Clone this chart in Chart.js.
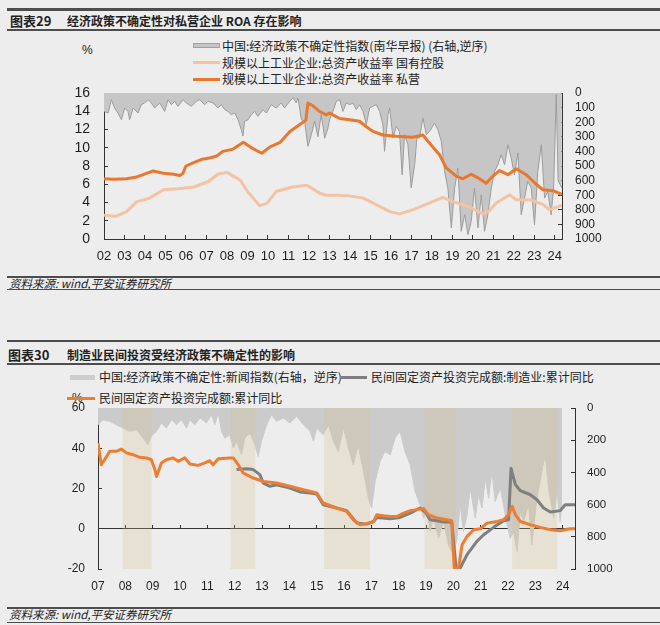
<!DOCTYPE html>
<html>
<head>
<meta charset="utf-8">
<title>经济政策不确定性</title>
<script src="https://cdn.jsdelivr.net/npm/chart.js@4.4.1/dist/chart.umd.min.js"></script>
<style>
  body { margin: 0; width: 660px; height: 625px; background: #ededed; position: relative; overflow: hidden; }
  .t { position: absolute; white-space: nowrap; font-family: "Noto Sans CJK SC", sans-serif; color: #222; }
  .rule { position: absolute; left: 7px; width: 653px; background: #4d4d4d; }
  .sw { position: absolute; }
  canvas { position: absolute; left: 0; }
</style>
</head>
<body>
<!-- 图表29 -->
<div class="rule" style="top:8px;height:3px"></div>
<div class="t" style="left:10px;top:12px;font-size:13px;line-height:17px;font-weight:bold">图表29</div>
<div class="t" style="left:67px;top:12px;font-size:12px;line-height:17px;font-weight:bold">经济政策不确定性对私营企业 ROA 存在影响</div>
<div class="rule" style="top:29px;height:2px"></div>

<div class="t" style="left:82px;top:42px;font-size:12px;line-height:16px;font-family:'Liberation Sans'">%</div>
<div class="sw" style="left:193px;top:43px;width:27px;height:5px;background:#c6c6c6;border:1px solid #a0a0a0;box-sizing:border-box"></div>
<div class="t" style="left:222px;top:38px;font-size:12px;line-height:16px">中国:经济政策不确定性指数(南华早报) (右轴,逆序)</div>
<div class="sw" style="left:193px;top:61px;width:27px;height:3px;background:#f3c3a3"></div>
<div class="t" style="left:222px;top:54.5px;font-size:12px;line-height:16px">规模以上工业企业:总资产收益率 国有控股</div>
<div class="sw" style="left:193px;top:77.5px;width:27px;height:3px;background:#e9782e"></div>
<div class="t" style="left:222px;top:71px;font-size:12px;line-height:16px">规模以上工业企业:总资产收益率 私营</div>

<canvas id="c1" width="660" height="186" style="top:84px"></canvas>

<div class="rule" style="top:276px;height:2px"></div>
<div class="t" style="left:9px;top:275px;font-size:11.5px;line-height:16px;font-style:italic">资料来源: wind,平安证券研究所</div>
<div class="rule" style="top:289px;height:1px"></div>

<!-- 图表30 -->
<div class="rule" style="top:340px;height:2px"></div>
<div class="t" style="left:8px;top:346px;font-size:13px;line-height:17px;font-weight:bold">图表30</div>
<div class="t" style="left:67px;top:346px;font-size:12px;line-height:17px;font-weight:bold">制造业民间投资受经济政策不确定性的影响</div>
<div class="rule" style="top:363px;height:2px"></div>

<div class="sw" style="left:70px;top:374.5px;width:25px;height:5px;background:#cdcdcd"></div>
<div class="t" style="left:99px;top:369px;font-size:12px;line-height:16px">中国:经济政策不确定性:新闻指数(右轴，逆序)</div>
<div class="sw" style="left:340px;top:375.5px;width:27px;height:3px;background:#7f7f7f"></div>
<div class="t" style="left:371px;top:369px;font-size:12px;line-height:16px">民间固定资产投资完成额:制造业:累计同比</div>
<div class="t" style="left:72px;top:390px;font-size:12px;line-height:16px;font-family:'Liberation Sans'">%</div>
<div class="sw" style="left:67px;top:396.5px;width:28px;height:3px;background:#ed7d31"></div>
<div class="t" style="left:99px;top:390px;font-size:12px;line-height:16px">民间固定资产投资完成额:累计同比</div>

<canvas id="c2" width="660" height="202" style="top:398px"></canvas>

<div class="rule" style="top:607px;height:2px"></div>
<div class="t" style="left:9px;top:606px;font-size:11.5px;line-height:16px;font-style:italic">资料来源: wind,平安证券研究所</div>
<div class="rule" style="top:622px;height:1px"></div>

<script>
// ---- 图表29 data ----
const yearTicks1 = [2002, 2003, 2004, 2005, 2006, 2007, 2008, 2009, 2010, 2011, 2012, 2013,
                    2014, 2015, 2016, 2017, 2018, 2019, 2020, 2021, 2022, 2023, 2024];

// 中国:经济政策不确定性指数(南华早报), right axis reversed
const epuYear1 = [
  2002.00, 2002.20, 2002.36, 2002.52, 2002.68, 2002.85,
  2003.01, 2003.17, 2003.25, 2003.42, 2003.66, 2003.82, 2003.98,
  2004.15, 2004.31, 2004.47, 2004.72, 2004.96,
  2005.12, 2005.29, 2005.45, 2005.61, 2005.86,
  2006.02, 2006.26, 2006.51, 2006.67, 2006.91,
  2007.08, 2007.32, 2007.56, 2007.73, 2007.89,
  2008.05, 2008.21, 2008.38, 2008.54, 2008.70, 2008.78, 2008.86,
  2009.03, 2009.19, 2009.35, 2009.51, 2009.76, 2009.92,
  2010.16, 2010.41, 2010.65, 2010.81,
  2011.06, 2011.22, 2011.38, 2011.47, 2011.63, 2011.79, 2011.95,
  2012.12, 2012.28, 2012.44, 2012.60, 2012.77, 2012.93,
  2013.01, 2013.17, 2013.34, 2013.50, 2013.66, 2013.82, 2013.99,
  2014.15, 2014.31, 2014.47, 2014.64, 2014.80, 2014.96,
  2015.12, 2015.29, 2015.45, 2015.61, 2015.69, 2015.86, 2015.94,
  2016.10, 2016.26, 2016.42, 2016.55, 2016.67, 2016.83, 2016.99,
  2017.16, 2017.27, 2017.40, 2017.56, 2017.73, 2017.89,
  2018.13, 2018.29, 2018.46, 2018.62, 2018.78, 2018.95,
  2019.11, 2019.27, 2019.43, 2019.60, 2019.76, 2019.92,
  2020.08, 2020.25, 2020.41, 2020.57, 2020.73, 2020.90,
  2021.06, 2021.22, 2021.38, 2021.55, 2021.71, 2021.87,
  2022.03, 2022.20, 2022.36, 2022.52, 2022.68, 2022.85,
  2023.01, 2023.17, 2023.34, 2023.50, 2023.66, 2023.82, 2023.94,
  2024.07, 2024.16, 2024.34
];
const epuVal1 = [
  126, 137, 46, 103, 137, 183,
  103, 126, 183, 103, 137, 80, 68,
  46, 68, 103, 68, 126,
  46, 80, 57, 91, 46,
  68, 91, 57, 46, 80,
  57, 68, 103, 80, 114,
  126, 148, 137, 183, 251, 295, 194,
  183, 148, 126, 160, 114, 137,
  80, 103, 68, 103,
  57, 34, 68, 34, 183, 194, 365,
  285, 194, 300, 148, 310, 240,
  183, 126, 57, 46, 126, 68, 80,
  68, 114, 80, 126, 217, 103,
  91, 80, 126, 217, 400, 148, 103,
  308, 228, 263, 560, 285, 354, 651,
  491, 308, 308, 171, 285, 263,
  206, 251, 331, 537, 651, 925,
  651, 514, 948, 834, 970, 880,
  651, 925, 697, 948, 834, 651,
  537, 491, 422, 491, 354, 445,
  560, 411, 834, 720, 605, 651,
  902, 537, 354, 720, 674, 834, 651,
  10, 600, 650
];

// 规模以上工业企业:总资产收益率 私营 (%)
const privYear1 = [2002.0, 2002.5, 2003.1, 2003.6, 2004.07, 2004.4, 2004.9, 2005.4, 2005.7, 2005.85,
  2006.0, 2006.4, 2006.8, 2007.2, 2007.5, 2007.8, 2008.3, 2008.8, 2009.27, 2009.7,
  2010.1, 2010.6, 2011.06, 2011.55, 2011.85, 2011.95, 2012.2, 2012.5, 2012.85, 2013.01,
  2013.5, 2013.99, 2014.47, 2014.8, 2015.12, 2015.61, 2016.26, 2017.07, 2017.56, 2017.89,
  2018.38, 2018.7, 2019.19, 2019.51, 2019.92, 2020.25, 2020.65, 2020.98, 2021.3, 2021.71,
  2022.12, 2022.6, 2023.09, 2023.42, 2023.9, 2024.34];
const privVal1 = [6.6, 6.55, 6.6, 6.8, 7.2, 7.45, 7.2, 7.1, 6.95, 7.2,
  8.0, 8.4, 8.75, 8.9, 9.1, 9.6, 9.85, 10.6, 9.9, 9.4,
  10.1, 10.6, 11.75, 12.55, 13.0, 14.9, 14.6, 14.0, 13.6, 13.8,
  13.2, 13.07, 12.9, 12.3, 11.8, 11.4, 11.25, 11.15, 11.4, 10.5,
  9.2, 7.8, 6.9, 6.6, 7.1, 6.7, 6.1, 6.9, 7.5, 7.05,
  7.7, 7.05, 6.0, 5.4, 5.3, 4.9];

// 规模以上工业企业:总资产收益率 国有控股 (%)
const soeYear1 = [2002.0, 2002.6, 2003.1, 2003.6, 2004.2, 2004.9, 2005.6, 2006.4, 2007.1, 2007.55,
  2008.0, 2008.65, 2009.0, 2009.6, 2009.95, 2010.4, 2011.2, 2011.9, 2012.55, 2012.85,
  2013.4, 2014.0, 2014.64, 2015.29, 2015.94, 2016.42, 2017.07, 2017.89, 2018.54, 2019.03,
  2019.84, 2020.49, 2020.81, 2021.14, 2021.79, 2022.12, 2022.77, 2023.42, 2023.74, 2024.34];
const soeVal1 = [2.6, 2.5, 3.0, 4.1, 4.45, 5.4, 5.5, 5.7, 6.3, 7.1,
  7.3, 6.45, 5.2, 3.65, 3.9, 5.2, 5.7, 5.9, 5.0, 4.8,
  4.8, 4.7, 4.5, 3.75, 3.0, 2.75, 3.2, 3.95, 4.55, 4.1,
  3.5, 2.75, 3.1, 3.95, 4.85, 4.3, 4.3, 3.8, 3.2, 3.7];

// ---- 图表30 data ----
const yearTicks2 = [2007, 2008, 2009, 2010, 2011, 2012, 2013, 2014, 2015,
                    2016, 2017, 2018, 2019, 2020, 2021, 2022, 2023, 2024];

// 中国:经济政策不确定性:新闻指数, right axis reversed
const epuYear2 = [
  2007.00, 2007.18, 2007.43, 2007.67, 2007.92,
  2008.16, 2008.41, 2008.65, 2008.83, 2008.95,
  2009.14, 2009.32, 2009.50, 2009.69, 2009.87,
  2010.05, 2010.24, 2010.36, 2010.54, 2010.73, 2010.97,
  2011.15, 2011.27, 2011.40, 2011.52, 2011.64, 2011.82, 2011.95,
  2012.07, 2012.25, 2012.37, 2012.56, 2012.74, 2012.86, 2012.98,
  2013.17, 2013.35, 2013.53, 2013.78,
  2014.02, 2014.27, 2014.51, 2014.76, 2014.88,
  2015.00, 2015.24, 2015.43, 2015.61, 2015.79, 2015.98,
  2016.16, 2016.34, 2016.52, 2016.71, 2016.89,
  2017.01, 2017.14, 2017.32, 2017.50, 2017.69, 2017.87,
  2018.05, 2018.23, 2018.42, 2018.60, 2018.78, 2018.91,
  2019.03, 2019.15, 2019.27, 2019.46, 2019.64, 2019.82,
  2020.00, 2020.13, 2020.25, 2020.37, 2020.50, 2020.62, 2020.80, 2020.92,
  2021.05, 2021.17, 2021.29, 2021.41, 2021.53, 2021.72, 2021.90,
  2022.08, 2022.20, 2022.33, 2022.45, 2022.57, 2022.75, 2022.87,
  2023.06, 2023.24, 2023.36, 2023.48, 2023.67, 2023.79, 2023.91, 2023.97
];
const epuVal2 = [
  104, 73, 83, 104, 125,
  145, 135, 187, 228, 176,
  145, 93, 125, 73, 104,
  73, 125, 73, 104, 62, 93,
  41, 104, 31, 145, 187, 166, 249,
  207, 290, 187, 156, 228, 301, 207,
  104, 41, 83, 62,
  93, 52, 104, 145, 207,
  125, 166, 104, 207, 270, 125,
  249, 353, 228, 394, 560,
  622, 456, 332, 270, 290, 187,
  145, 270, 353, 518, 601, 684,
  622, 767, 684, 809, 705, 850,
  912, 809, 601, 767, 664, 498, 684, 539,
  622, 435, 560, 394, 580, 498, 664,
  809, 767, 892, 643, 705, 601, 850,
  560, 394, 290, 498, 684, 518, 705, 600
];

// 民间固定资产投资完成额:累计同比 (%)
const privYear2 = [2007.00, 2007.12, 2007.24, 2007.43, 2007.67, 2007.85, 2008.04, 2008.28, 2008.53, 2008.77,
  2008.95, 2009.08, 2009.14, 2009.32, 2009.50, 2009.75, 2009.93, 2010.18, 2010.36, 2010.66,
  2010.91, 2011.09, 2011.21, 2011.40, 2011.82, 2011.95, 2012.13, 2012.31, 2012.68, 2013.05,
  2013.53, 2014.02, 2014.51, 2015.00, 2015.24, 2015.73, 2016.10, 2016.34, 2016.59, 2016.83,
  2017.08, 2017.20, 2017.44, 2017.69, 2017.93, 2018.18, 2018.42, 2018.66, 2018.91, 2019.09,
  2019.40, 2019.76, 2019.94, 2020.03, 2020.19, 2020.32, 2020.50, 2020.74, 2020.99, 2021.23,
  2021.60, 2021.84, 2022.02, 2022.15, 2022.27, 2022.45, 2022.82, 2023.18, 2023.55, 2023.91,
  2024.27, 2024.45];
const privVal2 = [42.5, 31.8, 34.3, 38.5, 38.5, 39.6, 37.7, 36.8, 35.5, 35.2,
  34.3, 29.4, 26.0, 32.7, 34.3, 35.2, 33.5, 35.2, 32.2, 31.5,
  32.7, 33.8, 31.8, 34.8, 35.2, 35.2, 31.8, 27.7, 25.2, 23.5,
  22.7, 21.1, 19.4, 17.8, 12.8, 10.3, 8.6, 4.5, 2.0, 2.5,
  3.6, 7.0, 6.5, 6.1, 6.1, 7.8, 9.0, 9.5, 10.0, 7.0,
  5.3, 4.5, 4.0, -19.5, -19.5, -8.0, -3.8, -0.5, 0.0, 2.8,
  3.6, 4.5, 7.0, 11.1, 7.0, 3.6, 2.0, 0.7, -0.5, -1.0,
  0.0, 0.0];

// 民间固定资产投资完成额:制造业:累计同比 (%)
const mfgYear2 = [2012.07, 2012.44, 2012.68, 2012.92, 2013.05, 2013.29, 2013.53, 2014.02, 2014.39, 2014.76,
  2015.00, 2015.24, 2015.73, 2016.10, 2016.47, 2016.83, 2017.08, 2017.20, 2017.69, 2018.05,
  2018.42, 2018.78, 2018.97, 2019.15, 2019.40, 2019.64, 2019.94, 2020.10, 2020.25, 2020.50,
  2020.86, 2021.11, 2021.47, 2021.84, 2022.02, 2022.11, 2022.27, 2022.45, 2022.82, 2023.06,
  2023.30, 2023.55, 2023.91, 2024.09, 2024.27, 2024.45];
const mfgVal2 = [29.4, 29.8, 29.4, 26.9, 22.7, 21.1, 21.9, 20.2, 18.3, 17.8,
  17.3, 11.9, 10.3, 9.0, 2.8, 2.3, 3.6, 5.6, 5.0, 5.6,
  7.8, 10.3, 8.3, 4.5, 4.0, 3.3, 3.3, -19.5, -19.5, -12.9,
  -6.3, -3.0, 0.7, 4.0, 4.5, 30.0, 21.9, 18.9, 16.9, 14.4,
  10.3, 8.3, 9.0, 11.9, 11.9, 11.9];

// beige shaded periods
const bandFrom = [2007.9, 2011.85, 2015.27, 2018.95, 2022.15];
const bandTo   = [2008.96, 2012.75, 2016.95, 2020.08, 2023.8];

// ---------------------------------------------------------------
Chart.defaults.font.family = '"Liberation Sans", Arial, sans-serif';
Chart.defaults.color = '#1e1e1e';

const xy = (xs, ys) => xs.map((x, i) => ({ x: x, y: ys[i] }));
const yy = v => String(v).slice(2);
const plain = v => String(v);

function inTicks() {
  // tick marks pointing into the plot, no grid lines
  return { drawOnChartArea: false, drawTicks: true, tickLength: -4, color: '#333', lineWidth: 1 };
}
const axisLine = { color: '#333', width: 1 };

// fixed axis width, and no extra top/bottom padding from tick labels
function fixWidth(w) {
  return s => { s.width = w; s.paddingTop = 0; s.paddingBottom = 0; };
}

new Chart(document.getElementById('c1'), {
  type: 'line',
  data: {
    datasets: [
      { label: '规模以上工业企业:总资产收益率 私营', data: xy(privYear1, privVal1), yAxisID: 'y',
        borderColor: '#e9782e', borderWidth: 3, pointRadius: 0, fill: false, borderJoinStyle: 'round' },
      { label: '规模以上工业企业:总资产收益率 国有控股', data: xy(soeYear1, soeVal1), yAxisID: 'y',
        borderColor: '#f3c3a3', borderWidth: 3, pointRadius: 0, fill: false, borderJoinStyle: 'round' },
      { label: '中国:经济政策不确定性指数(南华早报) (右轴,逆序)', data: xy(epuYear1, epuVal1), yAxisID: 'y2',
        borderColor: '#9c9c9c', borderWidth: 1, backgroundColor: '#c6c6c6', pointRadius: 0, fill: 'origin' }
    ]
  },
  options: {
    responsive: false,
    animation: false,
    layout: { padding: { top: 9 } },
    plugins: { legend: { display: false }, tooltip: { enabled: false } },
    scales: {
      x: {
        type: 'linear', min: 2002, max: 2024.35,
        afterBuildTicks: s => { s.ticks = yearTicks1.map(v => ({ value: v })); },
        afterFit: s => { s.height = 31; },
        border: axisLine, grid: inTicks(),
        ticks: { autoSkip: false, maxRotation: 0, padding: 14, font: { size: 13 }, callback: yy }
      },
      y: {
        position: 'left', min: 0, max: 16,
        afterFit: fixWidth(104),
        border: axisLine, grid: inTicks(),
        ticks: { stepSize: 2, autoSkip: false, padding: 18, font: { size: 14 }, callback: plain }
      },
      y2: {
        position: 'right', min: 0, max: 1000, reverse: true,
        afterFit: fixWidth(98),
        border: axisLine, grid: inTicks(),
        ticks: { stepSize: 100, autoSkip: false, padding: 17, font: { size: 12 }, callback: plain }
      }
    }
  }
});

const bandPlugin = {
  id: 'bands',
  afterDatasetDraw(chart, args) {
    if (args.index !== 2) return; // right after the index area
    const { ctx, chartArea: a, scales: { x } } = chart;
    ctx.save();
    ctx.fillStyle = 'rgba(212,192,135,0.25)';
    bandFrom.forEach((s, i) => {
      const x0 = x.getPixelForValue(s);
      const x1 = x.getPixelForValue(bandTo[i]);
      ctx.fillRect(x0, a.top, x1 - x0, a.bottom - a.top);
    });
    ctx.restore();
  }
};

new Chart(document.getElementById('c2'), {
  type: 'line',
  data: {
    datasets: [
      { label: '民间固定资产投资完成额:累计同比', data: xy(privYear2, privVal2), yAxisID: 'y',
        borderColor: '#ed7d31', borderWidth: 3, pointRadius: 0, fill: false, borderJoinStyle: 'round' },
      { label: '民间固定资产投资完成额:制造业:累计同比', data: xy(mfgYear2, mfgVal2), yAxisID: 'y',
        borderColor: '#7f7f7f', borderWidth: 3, pointRadius: 0, fill: false, borderJoinStyle: 'round' },
      { label: '中国:经济政策不确定性:新闻指数(右轴，逆序)', data: xy(epuYear2, epuVal2), yAxisID: 'y2',
        borderColor: '#cbcbcb', borderWidth: 1, backgroundColor: '#cbcbcb', pointRadius: 0, fill: 'origin' }
    ]
  },
  options: {
    responsive: false,
    animation: false,
    layout: { padding: { top: 10 } },
    plugins: { legend: { display: false }, tooltip: { enabled: false } },
    scales: {
      x: {
        type: 'linear', min: 2007, max: 2024.45, position: 'bottom',
        afterBuildTicks: s => { s.ticks = yearTicks2.map(v => ({ value: v })); },
        afterFit: s => { s.height = 31; },
        border: { display: false }, grid: { display: false, drawTicks: false },
        ticks: { autoSkip: false, maxRotation: 0, padding: 10, font: { size: 12 }, callback: yy }
      },
      xZero: {
        type: 'linear', min: 2007, max: 2024.45, position: { y: 0 },
        afterBuildTicks: s => { s.ticks = yearTicks2.map(v => ({ value: v })); },
        border: axisLine, grid: inTicks(),
        ticks: { display: false }
      },
      y: {
        position: 'left', min: -20, max: 60,
        afterFit: fixWidth(98),
        border: axisLine, grid: inTicks(),
        ticks: { stepSize: 20, autoSkip: false, padding: 17, font: { size: 12 }, callback: plain }
      },
      y2: {
        position: 'right', min: 0, max: 1000, reverse: true,
        afterFit: fixWidth(85),
        border: axisLine, grid: inTicks(),
        ticks: { stepSize: 200, autoSkip: false, padding: 16, font: { size: 11.5 }, callback: plain }
      }
    }
  },
  plugins: [bandPlugin]
});
</script>
</body>
</html>
